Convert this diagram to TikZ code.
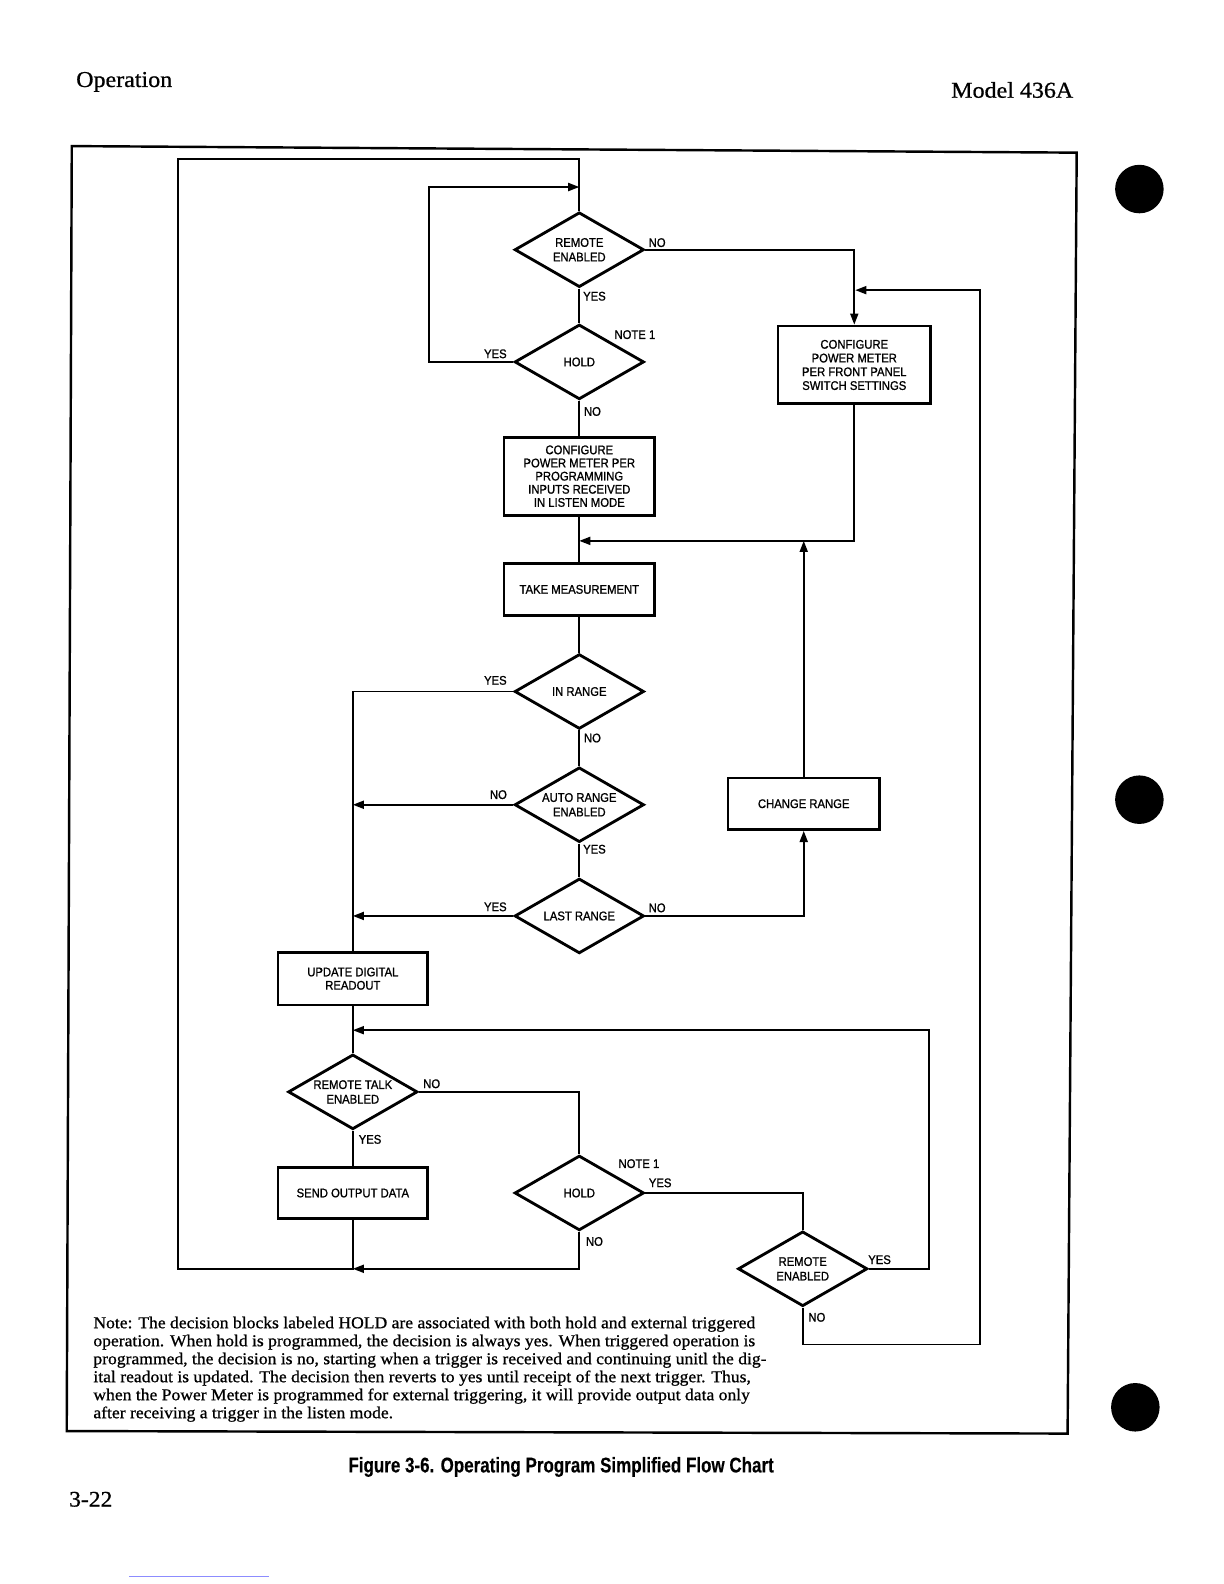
\documentclass[tikz,border=0pt]{standalone}
\usepackage{fontspec}
\setmainfont{Liberation Serif}
\newfontfamily\notefont[FakeStretch=1.06,FakeBold=0.8]{Liberation Serif}
\newfontfamily\boxfont[FakeStretch=0.9,FakeBold=1.1]{Liberation Sans}
\newfontfamily\capfont[FakeStretch=0.80,FakeBold=0.3]{Liberation Sans Bold}
\usetikzlibrary{arrows.meta,shapes.geometric}
\begin{document}
\begin{tikzpicture}[x=0.5pt,y=-0.5pt,
  line/.style={line width=0.85pt},
  arr/.style={line width=0.85pt,-{Triangle[length=5.5pt,width=4pt]}},
  box/.style={draw,line width=1.4pt,minimum width=74.5pt,minimum height=25.5pt,inner sep=0pt,align=center,font=\boxfont\fontsize{6.2}{6.6}\selectfont},
  dec/.style={draw,diamond,line width=1.4pt,minimum width=64pt,minimum height=37pt,inner sep=0pt},
  dtxt/.style={inner sep=0pt,align=center,font=\boxfont\fontsize{6.2}{7.2}\selectfont},
  lbl/.style={inner sep=0pt,font=\boxfont\fontsize{6.2}{7}\selectfont}]
\useasboundingbox (0,0) rectangle (1210.7,1566.8);
% page elements
\node[anchor=west,inner sep=0pt,font=\notefont\fontsize{11.2}{13}\selectfont] (hop) at (75,81) {Operation};
\node[anchor=east,inner sep=0pt,font=\notefont\fontsize{11.2}{13}\selectfont] (hmod) at (1062,89) {Model 436A};
\node[anchor=west,inner sep=0pt,font=\notefont\fontsize{11}{13}\selectfont] (pg) at (68,1483) {3-22};
\node[inner sep=0pt,font=\capfont\fontsize{10.5}{12}\selectfont] (cap) at (555,1451) {Figure 3-6. Operating Program Simplified Flow Chart};
\fill (1127,187) circle (24);
\fill (1127,791) circle (24);
\fill (1123,1392) circle (24);
\draw[line width=0.6pt,blue!45] (128,1559) -- (266,1559);
% frame
\draw[line width=1.2pt] (71,144.5) -- (1065,151) -- (1056,1418) -- (66,1415.5) -- cycle;
% decisions and boxes
\node[dec] (d1) at (573,247) {};
\node[dtxt] (t1) at (d1) {REMOTE\\ENABLED};
\node[dec] (d2) at (573,358) {};
\node[dtxt] (t2) at (d2) {HOLD};
\node[box,minimum height=38.5pt,font=\boxfont\fontsize{6.2}{6.5}\selectfont] (b1) at (573,471) {CONFIGURE\\POWER METER PER\\PROGRAMMING\\INPUTS RECEIVED\\IN LISTEN MODE};
\node[box] (b2) at (573,583) {TAKE MEASUREMENT};
\node[dec] (d3) at (573,684) {};
\node[dtxt] (t3) at (d3) {IN RANGE};
\node[dec] (d4) at (573,796) {};
\node[dtxt] (t4) at (d4) {AUTO RANGE\\ENABLED};
\node[dec] (d5) at (573,906) {};
\node[dtxt] (t5) at (d5) {LAST RANGE};
\node[box,minimum width=75.5pt,minimum height=38.5pt,font=\boxfont\fontsize{6.2}{6.8}\selectfont] (b3) at (845,361) {CONFIGURE\\POWER METER\\PER FRONT PANEL\\SWITCH SETTINGS};
\node[box,minimum width=75pt] (b4) at (795,795) {CHANGE RANGE};
\node[box,minimum width=74pt,minimum height=26pt] (b5) at (349,968) {UPDATE DIGITAL\\READOUT};
\node[dec] (d6) at (349,1080) {};
\node[dtxt] (t6) at (d6) {REMOTE TALK\\ENABLED};
\node[box,minimum width=74pt] (b6) at (349,1180) {SEND OUTPUT DATA};
\node[dec] (d7) at (573,1180) {};
\node[dtxt] (t7) at (d7) {HOLD};
\node[dec] (d8) at (794,1255) {};
\node[dtxt] (t8) at (d8) {REMOTE\\ENABLED};
% coordinates
\coordinate (cB) at (349,1255);
\coordinate (cBL) at (176,1255);
\coordinate (cTL) at (176,157);
\coordinate (cT) at (573,157);
\coordinate (h1) at (424,358);
\coordinate (h2) at (424,185);
\coordinate (h3) at (573,185);
\coordinate (j2) at (573,535);
\coordinate (j3) at (795,535);
\coordinate (k1) at (919,1019);
\coordinate (k2) at (349,1019);
\coordinate (m1) at (794,1330);
\coordinate (m2) at (969,1330);
\coordinate (m3) at (969,287);
\coordinate (m4) at (846,287);
% connectors
\draw[line] (b6.south) -- (cB) -- (cBL) -- (cTL) -- (cT) -- (d1.north);
\draw[arr] (d2.west) -- (h1) -- (h2) -- (h3);
\draw[line] (d1.south) -- (d2.north);
\draw[line] (d2.south) -- (b1.north);
\draw[line] (b1.south) -- (b2.north);
\draw[arr] (d1.east) -| (b3.north);
\draw[arr] (b3.south) |- (j2);
\draw[arr] (b4.north) -- (j3);
\draw[line] (b2.south) -- (d3.north);
\draw[line] (d3.south) -- (d4.north);
\draw[line] (d4.south) -- (d5.north);
\draw[line] (d3.west) -| (b5.north);
\draw[arr] (d4.west) -- (d4.west -| b5.north);
\draw[arr] (d5.west) -- (d5.west -| b5.north);
\draw[arr] (d5.east) -| (b4.south);
\draw[line] (b5.south) -- (d6.north);
\draw[arr] (d8.east) -| (k1) -- (k2);
\draw[line] (d6.east) -| (d7.north);
\draw[line] (d6.south) -- (b6.north);
\draw[arr] (d7.south) |- (cB);
\draw[line] (d7.east) -| (d8.north);
\draw[arr] (d8.south) -- (m1) -- (m2) -- (m3) -- (m4);
% labels
\node[lbl] (l1) at (650,240) {NO};
\node[lbl] (l2) at (588,293) {YES};
\node[lbl] (l3) at (628,331) {NOTE 1};
\node[lbl] (l4) at (490,350) {YES};
\node[lbl] (l5) at (586,407) {NO};
\node[lbl] (l6) at (490,673) {YES};
\node[lbl] (l7) at (586,730) {NO};
\node[lbl] (l8) at (493,786) {NO};
\node[lbl] (l9) at (588,840) {YES};
\node[lbl] (l10) at (490,897) {YES};
\node[lbl] (l11) at (650,898) {NO};
\node[lbl] (l12) at (427,1072) {NO};
\node[lbl] (l13) at (366,1127) {YES};
\node[lbl] (l14) at (632,1151) {NOTE 1};
\node[lbl] (l15) at (653,1170) {YES};
\node[lbl] (l16) at (588,1228) {NO};
\node[lbl] (l17) at (870,1246) {YES};
\node[lbl] (l18) at (808,1303) {NO};
% note
\node[anchor=north west,inner sep=0pt,align=left,font=\notefont\fontsize{8.2}{8.9}\selectfont] (note) at (92,1302) {Note: The decision blocks labeled HOLD are associated with both hold and external triggered\\operation. When hold is programmed, the decision is always yes. When triggered operation is\\programmed, the decision is no, starting when a trigger is received and continuing unitl the dig-\\ital readout is updated. The decision then reverts to yes until receipt of the next trigger. Thus,\\when the Power Meter is programmed for external triggering, it will provide output data only\\after receiving a trigger in the listen mode.};
\end{tikzpicture}
\end{document}
